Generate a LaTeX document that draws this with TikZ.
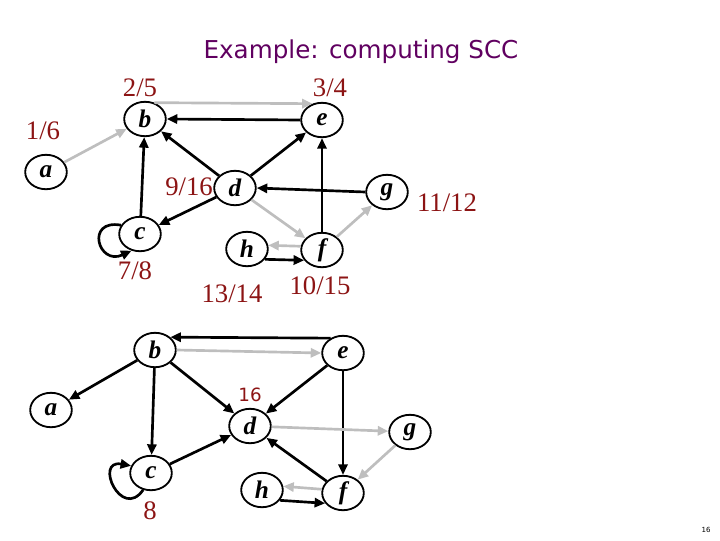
\documentclass[tikz,border=0pt]{standalone}
\usepackage{fontspec}
\setmainfont{Liberation Serif}
\newfontfamily\titlefont{DejaVu Sans}
\usetikzlibrary{shapes.geometric,arrows.meta}
\definecolor{numred}{RGB}{140,20,20}
\definecolor{titlepurple}{RGB}{96,0,96}
\definecolor{treegray}{RGB}{190,190,190}
\begin{document}
\begin{tikzpicture}[x=0.025cm, y=-0.025cm, >={Triangle[length=7.5pt,width=6.5pt]},
    vertex/.style={ellipse, draw, line width=1.3pt, minimum width=1.04cm, minimum height=0.86cm, inner sep=0pt, font=\fontsize{18}{18}\selectfont\bfseries\itshape},
    stamp/.style={text=numred, font=\fontsize{19}{20}\selectfont, inner sep=0pt},
    back/.style={->, line width=1.9pt},
    tree/.style={->, line width=1.9pt, treegray}]
    \useasboundingbox (0,0) rectangle (720,540);
    \node[font=\titlefont\fontsize{17.5}{20}\selectfont, text=titlepurple] (title) at (361,52) {Example: computing SCC};
    % first pass
    \node[vertex] (b1) at (145,119) {b};
    \node[vertex] (e1) at (322,120) {e};
    \node[vertex] (a1) at (46,172) {a};
    \node[vertex] (d1) at (235,188) {d};
    \node[vertex] (g1) at (387,192) {g};
    \node[vertex] (c1) at (140,234) {c};
    \node[vertex] (h1) at (247,249) {h};
    \node[vertex] (f1) at (322,250) {f};
    \node[stamp] (tb1) at (140,88) {2/5};
    \node[stamp] (ta1) at (43,131) {1/6};
    \node[stamp] (te1) at (330,88) {3/4};
    \node[stamp] (td1) at (189,187) {9/16};
    \node[stamp] (tg1) at (447,203) {11/12};
    \node[stamp] (tc1) at (135,271) {7/8};
    \node[stamp] (th1) at (232,294) {13/14};
    \node[stamp] (tf1) at (320,286) {10/15};
    \draw[tree] (a1) -- (b1);
    \draw[tree] (b1.60) -- (e1.120);
    \draw[back] (e1.west) -- (b1.east);
    \draw[back] (d1) -- (b1);
    \draw[back] (d1) -- (e1);
    \draw[back] (c1) -- (b1);
    \draw[back] (d1) -- (c1);
    \draw[back] (c1.155) to[out=170, in=205, looseness=3.4] (c1.243);
    \draw[back] (g1.west) -- (d1.east);
    \draw[back] (f1) -- (e1);
    \draw[tree] (d1) -- (f1);
    \draw[tree] (f1.170) -- (h1.10);
    \draw[back] (h1.330) -- (f1.210);
    \draw[tree] (f1) -- (g1);
    % second pass
    \node[vertex] (b2) at (155,350) {b};
    \node[vertex] (e2) at (343,353) {e};
    \node[vertex] (a2) at (51,410) {a};
    \node[vertex] (d2) at (250,426) {d};
    \node[vertex] (g2) at (410,432) {g};
    \node[vertex] (c2) at (151,473) {c};
    \node[vertex] (h2) at (262,490) {h};
    \node[vertex] (f2) at (343,493) {f};
    \node[stamp, font=\titlefont\fontsize{13}{14}\selectfont] (td2) at (250,395) {16};
    \node[stamp] (tc2) at (150,511) {8};
    \draw[back] (e2.130) -- (b2.40);
    \draw[tree] (b2.east) -- (e2.west);
    \draw[back] (b2) -- (a2);
    \draw[back] (b2) -- (c2);
    \draw[back] (b2) -- (d2);
    \draw[back] (e2) -- (d2);
    \draw[back] (e2) -- (f2);
    \draw[back] (c2) -- (d2);
    \draw[back] (c2.245) to[out=235, in=170, looseness=3.6] (c2.160);
    \draw[tree] (d2) -- (g2);
    \draw[tree] (g2) -- (f2);
    \draw[back] (f2) -- (d2);
    \draw[tree] (f2.170) -- (h2.10);
    \draw[back] (h2.330) -- (f2.210);
    \node[font=\titlefont\fontsize{5}{6}\selectfont] (page) at (706,530) {16};
\end{tikzpicture}
\end{document}
